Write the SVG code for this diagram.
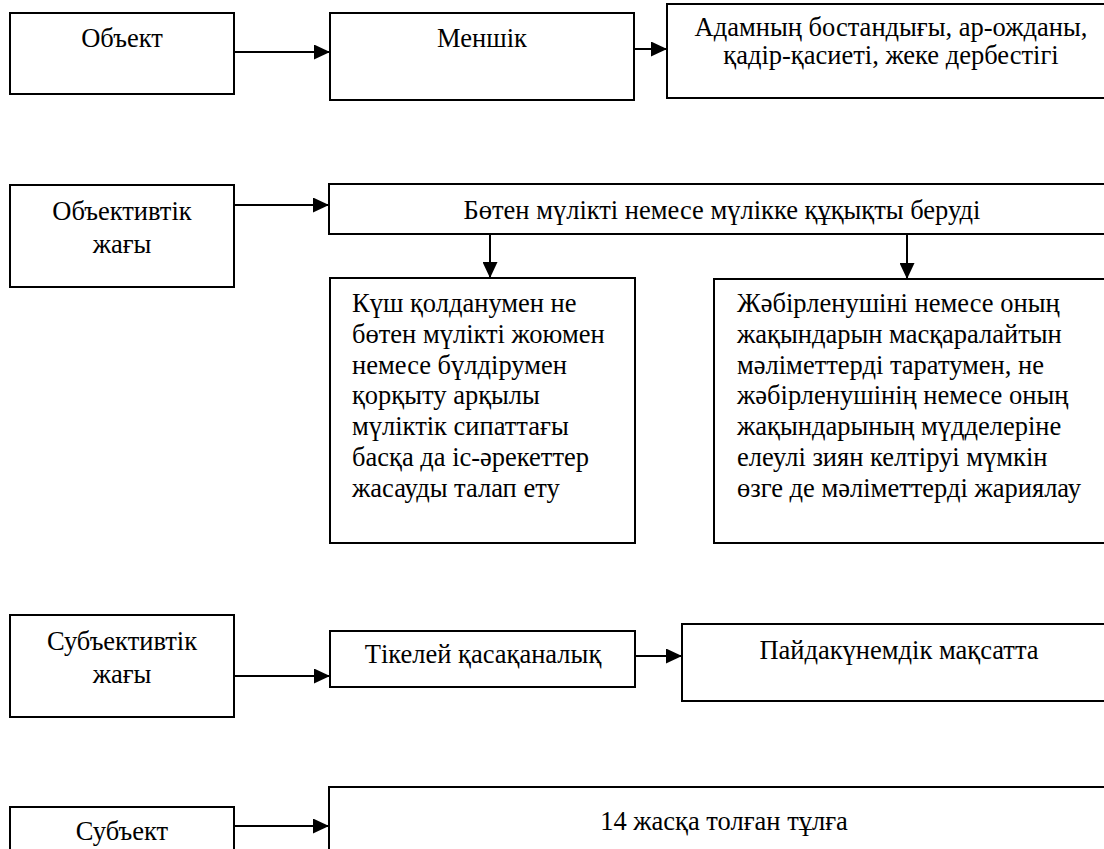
<svg xmlns="http://www.w3.org/2000/svg" width="1104" height="849" viewBox="0 0 1104 849">
<style>
.box{fill:#fff;stroke:#000;stroke-width:2}
text{font-size:26.5px;fill:#000}
.c{text-anchor:middle}
.ln{stroke:#000;stroke-width:2;fill:none}
</style>
<defs>
<marker id="ah" markerUnits="userSpaceOnUse" markerWidth="16" markerHeight="15" refX="16" refY="7.5" orient="auto">
<path d="M0,0 L16,7.5 L0,15 Z" fill="#000"/>
</marker>
</defs>
<rect width="1104" height="849" fill="#fff"/>
<g id="connectors">
<line class="ln" x1="234" y1="52" x2="330" y2="52" marker-end="url(#ah)"/>
<line class="ln" x1="634" y1="49" x2="667" y2="49" marker-end="url(#ah)"/>
<line class="ln" x1="234" y1="205" x2="329" y2="205" marker-end="url(#ah)"/>
<line class="ln" x1="490" y1="234" x2="490" y2="278" marker-end="url(#ah)"/>
<line class="ln" x1="907" y1="234" x2="907" y2="279" marker-end="url(#ah)"/>
<line class="ln" x1="234" y1="676" x2="330" y2="676" marker-end="url(#ah)"/>
<line class="ln" x1="635" y1="656" x2="682" y2="656" marker-end="url(#ah)"/>
<line class="ln" x1="234" y1="826" x2="329" y2="826" marker-end="url(#ah)"/>
</g>
<g font-family="Liberation Serif, Times New Roman, DejaVu Serif, serif">
<g id="n1"><rect class="box" x="10" y="13" width="224" height="81"/><text class="c" x="122" y="47">Объект</text></g>
<g id="n2"><rect class="box" x="330" y="13" width="304" height="87"/><text class="c" x="482" y="47">Меншік</text></g>
<g id="n3"><rect class="box" x="667" y="4" width="449" height="94"/><text class="c" x="891" y="36">Адамның бостандығы, ар-ожданы,</text><text class="c" x="891" y="64">қадір-қасиеті, жеке дербестігі</text></g>
<g id="n4"><rect class="box" x="10" y="185" width="224" height="102"/><text class="c" x="122" y="220">Объективтік</text><text class="c" x="122" y="253">жағы</text></g>
<g id="n5"><rect class="box" x="329" y="184" width="787" height="50"/><text class="c" x="722" y="219">Бөтен мүлікті немесе мүлікке құқықты беруді</text></g>
<g id="n6"><rect class="box" x="330" y="278" width="305" height="265"/>
<text x="352" y="312">Күш қолданумен не</text>
<text x="352" y="343">бөтен мүлікті жоюмен</text>
<text x="352" y="374">немесе бүлдірумен</text>
<text x="352" y="404">қорқыту арқылы</text>
<text x="352" y="435">мүліктік сипаттағы</text>
<text x="352" y="466">басқа да іс-әрекеттер</text>
<text x="352" y="497">жасауды талап ету</text></g>
<g id="n7"><rect class="box" x="714" y="279" width="402" height="264"/>
<text x="737" y="312">Жәбірленушіні немесе оның</text>
<text x="737" y="343">жақындарын масқаралайтын</text>
<text x="737" y="374">мәліметтерді таратумен, не</text>
<text x="737" y="404">жәбірленушінің немесе оның</text>
<text x="737" y="435">жақындарының мүдделеріне</text>
<text x="737" y="466">елеулі зиян келтіруі мүмкін</text>
<text x="737" y="497">өзге де мәліметтерді жариялау</text></g>
<g id="n8"><rect class="box" x="10" y="615" width="224" height="102"/><text class="c" x="122" y="650">Субъективтік</text><text class="c" x="122" y="683">жағы</text></g>
<g id="n9"><rect class="box" x="330" y="631" width="305" height="56"/><text class="c" x="483" y="663">Тікелей қасақаналық</text></g>
<g id="n10"><rect class="box" x="682" y="624" width="434" height="77"/><text class="c" x="899" y="659">Пайдакүнемдік мақсатта</text></g>
<g id="n11"><rect class="box" x="10" y="807" width="224" height="60"/><text class="c" x="122" y="840">Субъект</text></g>
<g id="n12"><rect class="box" x="329" y="787" width="790" height="80"/><text class="c" x="724" y="830">14 жасқа толған тұлға</text></g>
</g>
</svg>
